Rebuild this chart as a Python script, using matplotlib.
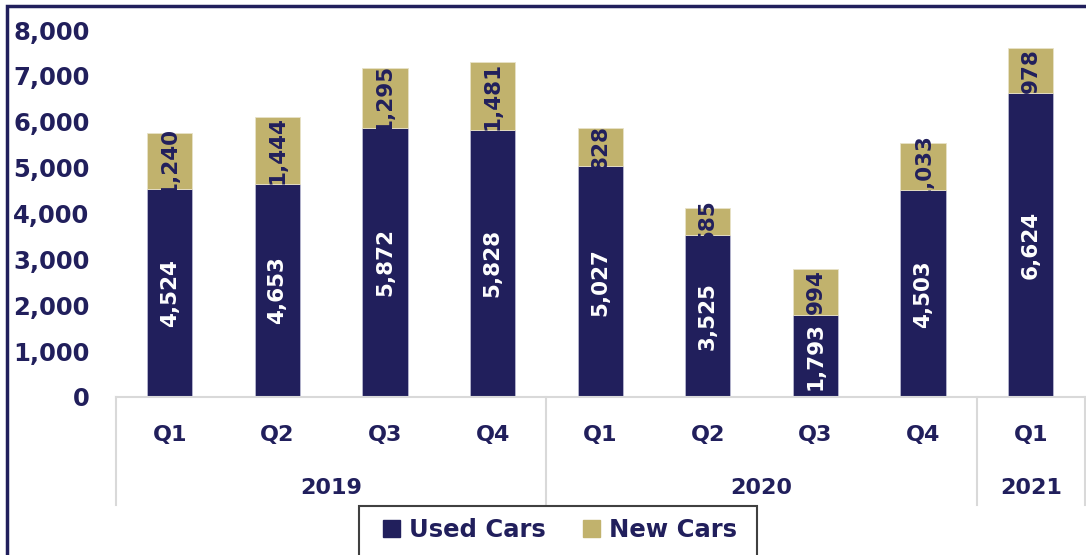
import matplotlib
matplotlib.use("Agg")
import matplotlib.pyplot as plt
from matplotlib.patches import Rectangle, Patch
import matplotlib.transforms as mtransforms

# ---- data ----
quarters = ["Q1", "Q2", "Q3", "Q4", "Q1", "Q2", "Q3", "Q4", "Q1"]
years = ["2019", "2020", "2021"]
year_sizes = [4, 4, 1]
used_cars = [4524, 4653, 5872, 5828, 5027, 3525, 1793, 4503, 6624]
new_cars = [1240, 1444, 1295, 1481, 828, 585, 994, 1033, 978]
series_names = ["Used Cars", "New Cars"]
y_ticks = [0, 1000, 2000, 3000, 4000, 5000, 6000, 7000, 8000]

NAVY = "#211F5C"
TAN = "#C1B26D"
SEP = "#D9D9D9"

W, H = 1086, 555
fig = plt.figure(figsize=(W / 100, H / 100), dpi=100)
plt.rcParams['font.family'] = ['DejaVu Sans']

ax = fig.add_axes([116 / W, 1 - 397 / H, (1084.5 - 116) / W, (397 - 30) / H])
x = list(range(len(quarters)))
bw = 0.42
ax.bar(x, used_cars, width=bw, color=NAVY, edgecolor="#B8B8D0", linewidth=0.6)
ax.bar(x, new_cars, width=bw, bottom=used_cars, color=TAN, edgecolor="#E8E2C8", linewidth=0.6)

for i in x:
    u, n = used_cars[i], new_cars[i]
    ax.text(i, u / 2, f"{u:,}", rotation=90, ha="center", va="center",
            color="white", fontsize=15.5, fontweight="bold")
    t = ax.text(i, u + n / 2, f"{n:,}", rotation=90, ha="center", va="center",
                color=NAVY, fontsize=15.5, fontweight="bold")
    clip = Rectangle((i - 1, u), 2, 20000, transform=ax.transData)
    t.set_clip_path(clip)

ax.set_xlim(-0.5, len(quarters) - 0.5)
ax.set_ylim(0, 8000)
ax.set_yticks(y_ticks)
ax.set_yticklabels([f"{v:,}" for v in y_ticks])
ax.tick_params(axis="y", length=0, pad=19, labelsize=17.5, labelcolor=NAVY)
for lab in ax.get_yticklabels():
    lab.set_fontweight("bold")
ax.set_xticks([])
for s in ["top", "right", "left"]:
    ax.spines[s].set_visible(False)
ax.spines["bottom"].set_color(SEP)
ax.spines["bottom"].set_linewidth(1.5)

trans = mtransforms.blended_transform_factory(ax.transData, ax.transAxes)
for i, q in enumerate(quarters):
    ax.text(i, -0.104, q, transform=trans, ha="center", va="center",
            fontsize=16, fontweight="bold", color=NAVY)

start = 0
bounds = [-0.5]
for yname, sz in zip(years, year_sizes):
    center = start + (sz - 1) / 2
    ax.text(center, -0.248, yname, transform=trans, ha="center", va="center",
            fontsize=16, fontweight="bold", color=NAVY)
    start += sz
    bounds.append(start - 0.5)
for b in bounds:
    ax.plot([b, b], [0, -0.294], transform=trans, color=SEP, lw=1.5, clip_on=False)

handles = [Patch(facecolor=NAVY, edgecolor=NAVY), Patch(facecolor=TAN, edgecolor=TAN)]
leg = fig.legend(handles, series_names, loc="center",
                 bbox_to_anchor=(560 / W, 1 - 530 / H), ncol=2, frameon=False,
                 fontsize=17.5, handlelength=0.7, handleheight=0.7, handletextpad=0.4,
                 columnspacing=1.5, borderpad=0.2, borderaxespad=0)
for t in leg.get_texts():
    t.set_color(NAVY)
    t.set_fontweight("bold")

# legend frame
fig.patches.append(Rectangle((359 / W, 1 - 570 / H), (757 - 359) / W, 64 / H,
                             transform=fig.transFigure, fill=False, edgecolor="#404040",
                             linewidth=1.5, clip_on=False))
# outer chart border
fig.patches.append(Rectangle((7 / W, -0.2), 1.5, 1.2 - 6 / H, transform=fig.transFigure,
                             fill=False, edgecolor=NAVY, linewidth=2.5, clip_on=False))

fig.savefig("out.png", dpi=100)
